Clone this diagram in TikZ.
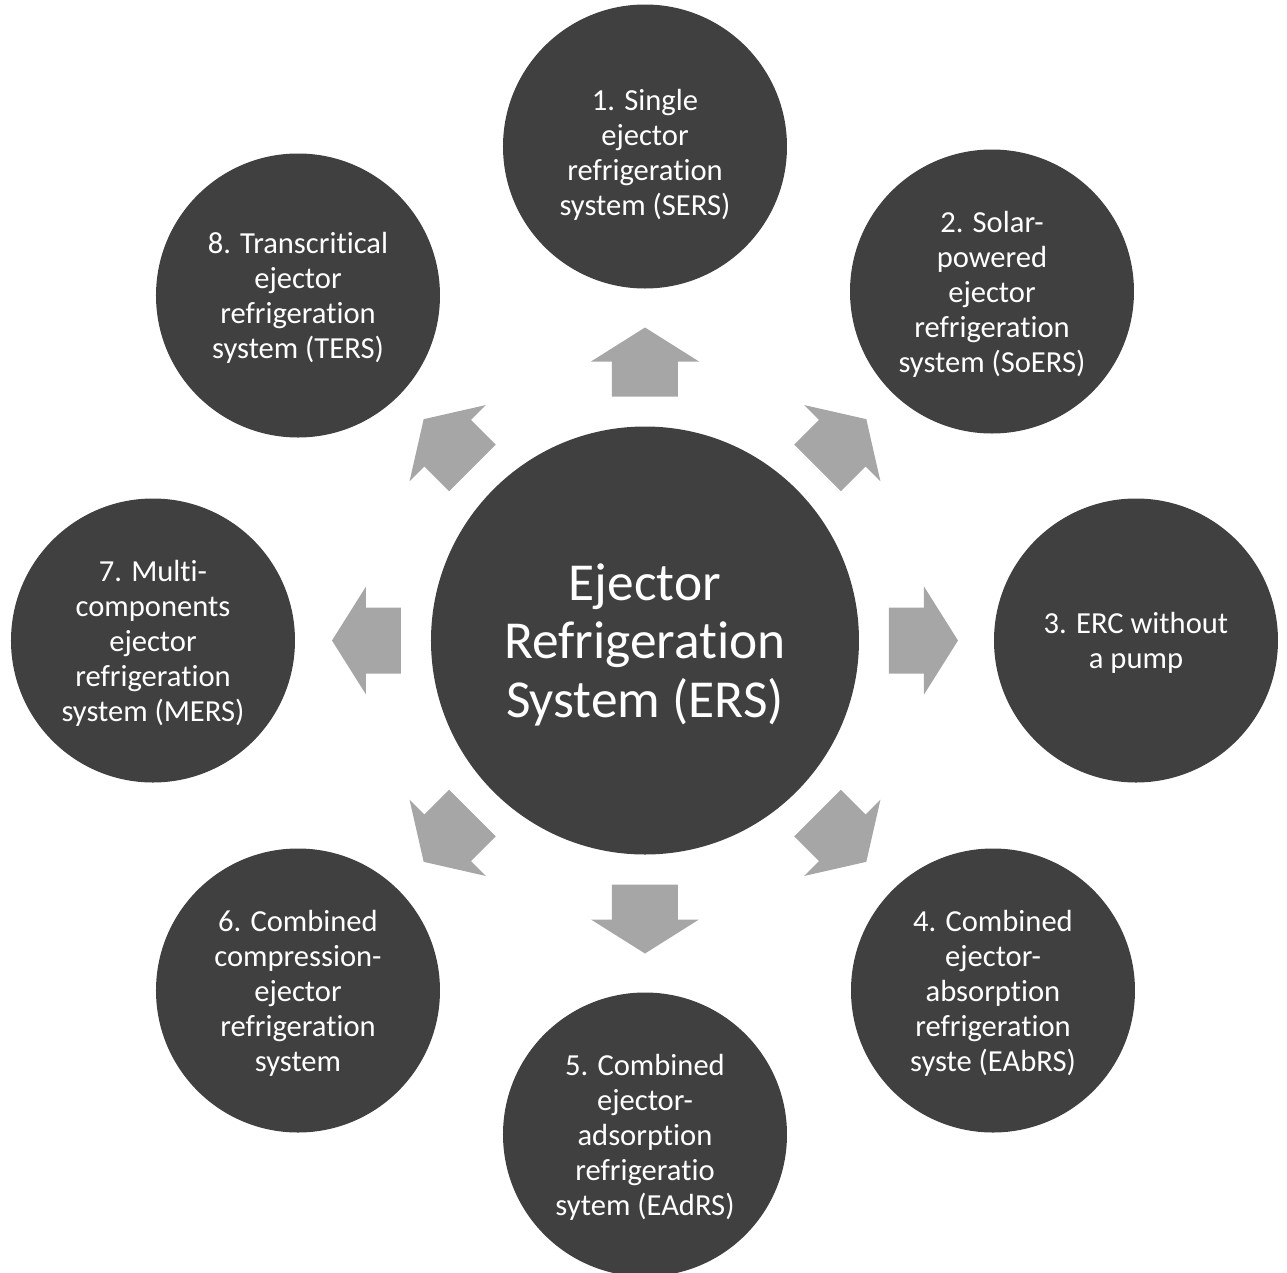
\documentclass[tikz,border=0pt]{standalone}
\usepackage{fontspec}
\setmainfont{Carlito}[Ligatures={NoCommon,NoContextual}]
\usepackage{tikz}
\usetikzlibrary{positioning}
\definecolor{CircleGray}{HTML}{404040}
\definecolor{ArrowGray}{HTML}{A6A6A6}

\begin{document}
\begin{tikzpicture}[
        hub/.style={circle, fill=CircleGray, minimum size=4.28cm, inner sep=0pt,
                    text=white, align=center, font=\fontsize{15.2}{16.6}\selectfont,
                    text depth=0pt},
        spoke/.style={circle, fill=CircleGray, minimum size=2.84cm, inner sep=0pt,
                    text=white, align=center, font=\fontsize{8.7}{9.96}\selectfont,
                    text depth=0pt},
        blockarrow/.pic={\fill[ArrowGray] (2.44,-0.33) -- (2.79,-0.33) -- (2.79,-0.54) -- (3.13,0)
                    -- (2.79,0.54) -- (2.79,0.33) -- (2.44,0.33) -- cycle;}]

        \useasboundingbox (-6.45,-6.315) rectangle (6.42,6.405);

        \node[hub] (ers) at (0,0) {Ejector\\Refrigeration\\System (ERS)};

        \node[spoke] (sers)  at (0,4.94)       {\rule{0pt}{9.3pt}1. Single\\ejector\\refrigeration\\system (SERS)};
        \node[spoke] (soers) at (3.47,3.49)    {2. Solar-\\powered\\ejector\\refrigeration\\system (SoERS)};
        \node[spoke] (erc)   at (4.91,0)       {3. ERC without\\a pump};
        \node[spoke] (eabrs) at (3.48,-3.50)   {4. Combined\\ejector-\\absorption\\refrigeration\\syste (EAbRS)};
        \node[spoke] (eadrs) at (0,-4.94)      {5. Combined\\ejector-\\adsorption\\refrigeratio\\sytem (EAdRS)};
        \node[spoke] (cers)  at (-3.47,-3.50)  {6. Combined\\compression-\\ejector\\refrigeration\\system};
        \node[spoke] (mers)  at (-4.92,0)      {7. Multi-\\components\\ejector\\refrigeration\\system (MERS)};
        \node[spoke] (ters)  at (-3.47,3.45)   {8. Transcritical\\ejector\\refrigeration\\system (TERS)};

        \pic[rotate=90]  at (ers) {blockarrow};
        \pic[rotate=45]  at (ers) {blockarrow};
        \pic[rotate=0]   at (ers) {blockarrow};
        \pic[rotate=-45] at (ers) {blockarrow};
        \pic[rotate=-90] at (ers) {blockarrow};
        \pic[rotate=-135] at (ers) {blockarrow};
        \pic[rotate=180] at (ers) {blockarrow};
        \pic[rotate=135] at (ers) {blockarrow};
      \end{tikzpicture}
\end{document}
